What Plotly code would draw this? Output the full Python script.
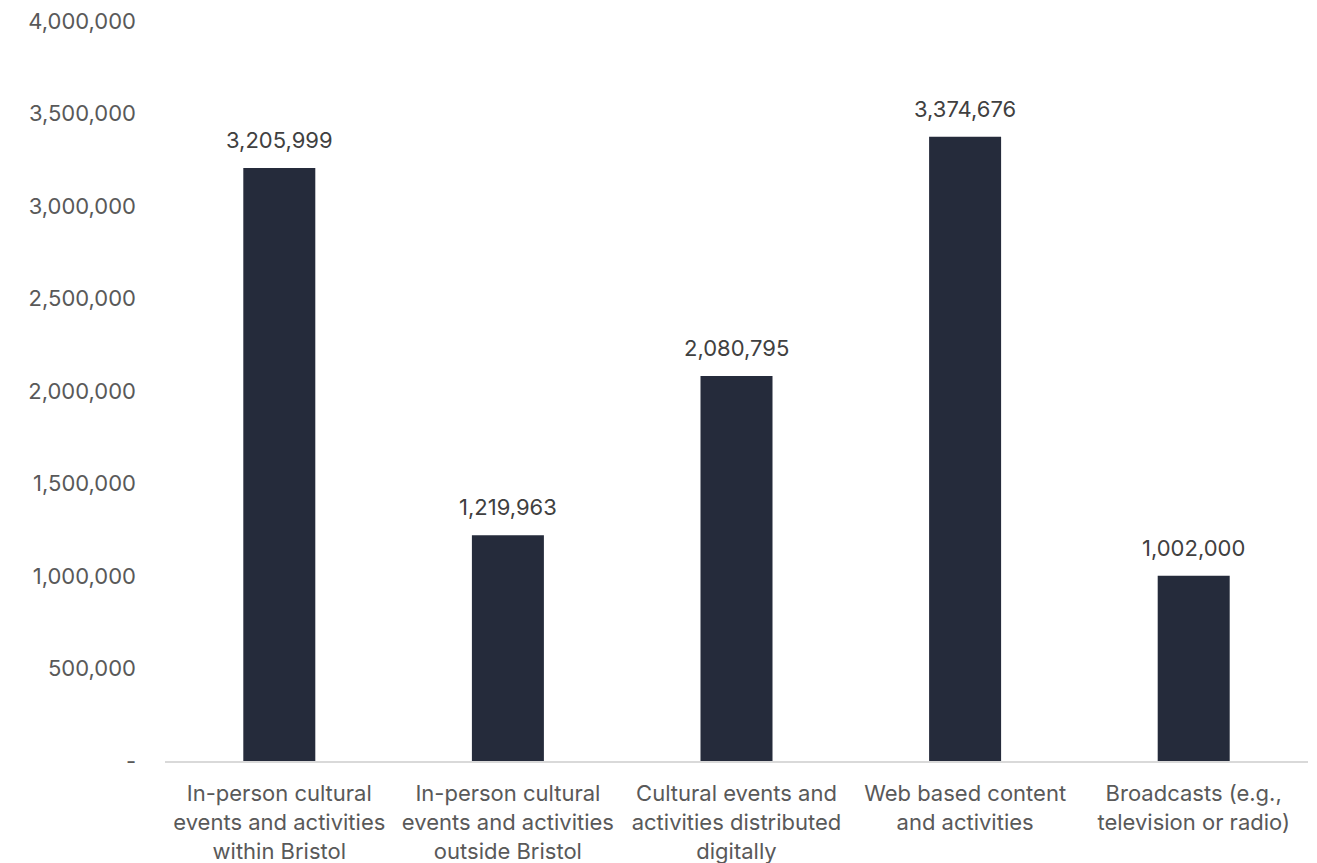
import plotly.graph_objects as go

categories = [
    "In-person cultural<br>events and activities<br>within Bristol",
    "In-person cultural<br>events and activities<br>outside Bristol",
    "Cultural events and<br>activities distributed<br>digitally",
    "Web based content<br>and activities",
    "Broadcasts (e.g.,<br>television or radio)",
]
values = [3205999, 1219963, 2080795, 3374676, 1002000]
tick_vals = [0, 500000, 1000000, 1500000, 2000000, 2500000, 3000000, 3500000, 4000000]
tick_text = ["-", "500,000", "1,000,000", "1,500,000", "2,000,000", "2,500,000",
             "3,000,000", "3,500,000", "4,000,000"]

font_family = "Inter, 'Noto Sans', sans-serif"
fs = 22

fig = go.Figure(go.Bar(
    x=categories,
    y=values,
    marker=dict(color="#252b3b", line=dict(width=0)),
    width=0.315,
    cliponaxis=False,
))

for c, v in zip(categories, values):
    fig.add_annotation(
        x=c, y=v, text=f"{v:,}", showarrow=False,
        yanchor="bottom", yshift=13,
        font=dict(size=fs, color="#404040", family=font_family),
    )

fig.update_layout(
    width=1317, height=863,
    margin=dict(l=165, r=9, t=21, b=102, autoexpand=False),
    plot_bgcolor="white", paper_bgcolor="white",
    showlegend=False,
    font=dict(family=font_family, size=fs, color="#595959"),
    xaxis=dict(
        showline=True, linecolor="#d9d9d9", linewidth=2,
        ticks="", showgrid=False, ticklabelstandoff=12,
        automargin=False,
        tickfont=dict(size=fs, color="#595959"),
    ),
    yaxis=dict(
        range=[0, 4000000],
        tickvals=tick_vals, ticktext=tick_text,
        showgrid=False, zeroline=False, showline=False,
        ticks="", ticklabelstandoff=28, automargin=False,
        tickfont=dict(size=fs, color="#595959"),
    ),
)

fig.write_html("out.html")
